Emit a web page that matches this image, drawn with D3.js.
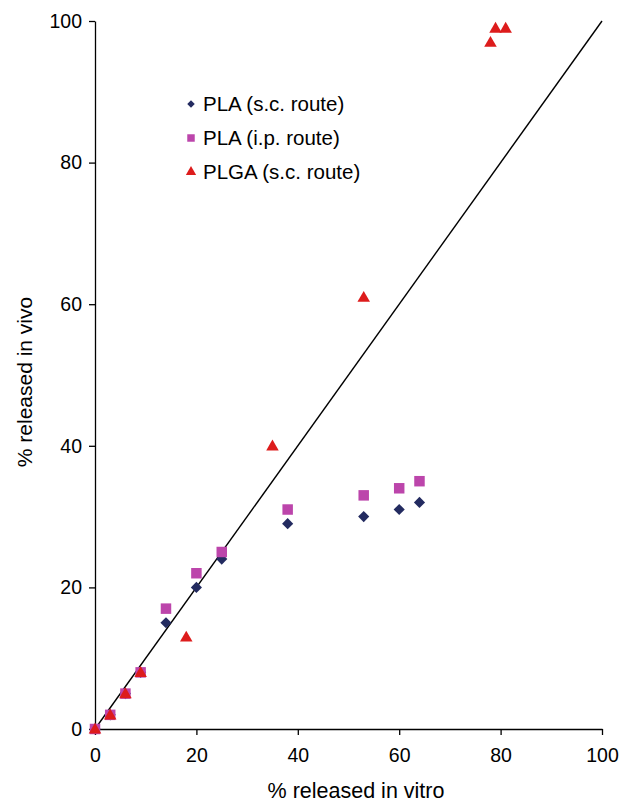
<!DOCTYPE html>
<html><head><meta charset="utf-8">
<script src="https://cdn.jsdelivr.net/npm/d3@7"></script>
<style>body{margin:0;background:#fff;} svg{display:block;font-family:"Liberation Sans",Arial,sans-serif;}</style>
</head><body>
<script>
const plaScX = [0, 3, 6, 9, 14, 20, 25, 38, 53, 60, 64];
const plaScY = [0, 2, 5, 8, 15, 20, 24, 29, 30, 31, 32];
const plaIpX = [0, 3, 6, 9, 14, 20, 25, 38, 53, 60, 64];
const plaIpY = [0, 2, 5, 8, 17, 22, 25, 31, 33, 34, 35];
const plgaX = [0, 3, 6, 9, 18, 35, 53, 78, 79, 81];
const plgaY = [0, 2, 5, 8, 13, 40, 61, 97, 99, 99];
const ticks = [0, 20, 40, 60, 80, 100];
const seriesNames = ["PLA (s.c. route)", "PLA (i.p. route)", "PLGA (s.c. route)"];

const W = 633, H = 803;
const svg = d3.select("body").append("svg").attr("width", W).attr("height", H);
const x = d3.scaleLinear().domain([0, 100]).range([95, 602]);
const y = d3.scaleLinear().domain([0, 100]).range([729, 21]);

const xAxis = svg.append("g").attr("transform", `translate(0,${y(0)})`)
  .call(d3.axisBottom(x).tickValues(ticks).tickSize(6).tickSizeOuter(0).tickPadding(13));
const yAxis = svg.append("g").attr("transform", `translate(${x(0)},0)`)
  .call(d3.axisLeft(y).tickValues(ticks).tickSize(6).tickSizeOuter(0).tickPadding(7));
[xAxis, yAxis].forEach(a => {
  a.selectAll("path,line").attr("stroke", "#000").attr("stroke-width", 1.3);
  a.selectAll("text").attr("font-size", 19.5).attr("fill", "#000").attr("font-family", "Liberation Sans, Arial, sans-serif");
});

// y = x reference line
svg.append("line").attr("x1", x(0)).attr("y1", y(0)).attr("x2", x(100)).attr("y2", y(100))
  .attr("stroke", "#000").attr("stroke-width", 1.4);

const colors = ["#232B60", "#BC45AB", "#DD1C1C"];
const sym = [d3.symbolSquare, d3.symbolSquare, d3.symbolTriangle];
const rot = [45, 0, 0];
const sizes = [62, 110, 68];
function drawSeries(xs, ys, i) {
  svg.append("g").selectAll("path").data(xs.map((v, k) => [v, ys[k]])).join("path")
    .attr("d", d3.symbol(sym[i], sizes[i]))
    .attr("transform", d => `translate(${x(d[0])},${y(d[1]) + (i === 2 ? 1 : 0)}) rotate(${rot[i]})`)
    .attr("fill", colors[i]);
}
drawSeries(plaScX, plaScY, 0);
drawSeries(plaIpX, plaIpY, 1);
drawSeries(plgaX, plgaY, 2);

// legend
const lg = svg.append("g");
seriesNames.forEach((n, i) => {
  const yy = 104 + i * 34;
  lg.append("path").attr("d", d3.symbol(sym[i], [28, 56, 46][i]))
    .attr("transform", `translate(191,${yy}) rotate(${rot[i]})`).attr("fill", colors[i]);
  lg.append("text").attr("x", 203).attr("y", yy + 7).attr("font-size", 20.5).text(n);
});

svg.append("text").attr("x", 356).attr("y", 798).attr("text-anchor", "middle")
  .attr("font-size", 21.5).text("% released in vitro");
svg.append("text").attr("transform", `translate(32,382) rotate(-90)`)
  .attr("text-anchor", "middle").attr("font-size", 21).text("% released in vivo");
</script>
</body></html>
